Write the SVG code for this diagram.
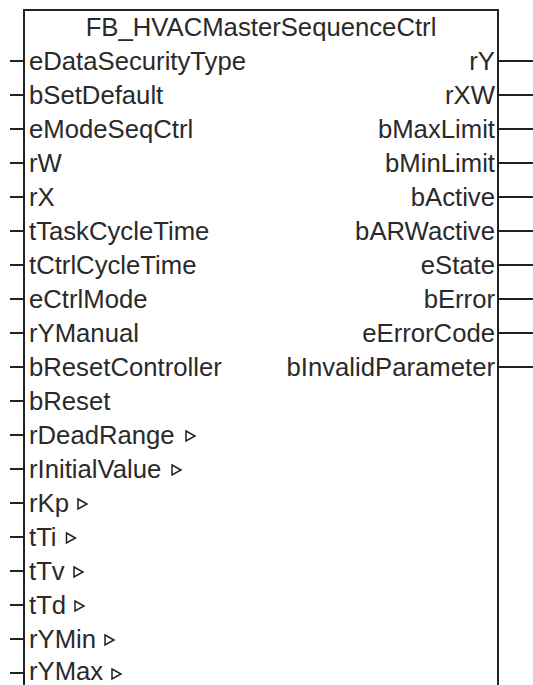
<svg xmlns="http://www.w3.org/2000/svg" width="533" height="685" viewBox="0 0 533 685">
<style>
.t{font-family:"Liberation Sans",Arial,sans-serif;font-size:25.7px;fill:#2a2a2a}
.r{text-anchor:end}
.ln{stroke:#222;stroke-width:2;fill:none}
.tri{stroke:#222;stroke-width:1.5;fill:#fff;stroke-linejoin:miter}
</style>
<rect width="533" height="685" fill="#fff"/>
<g id="fb">
<path class="ln" d="M24,686 V10 H498 V686"/>
<text class="t" x="261" y="36" text-anchor="middle">FB_HVACMasterSequenceCtrl</text>
<text class="t" x="29" y="70">eDataSecurityType</text>
<text class="t" x="29" y="104">bSetDefault</text>
<text class="t" x="29" y="138">eModeSeqCtrl</text>
<text class="t" x="29" y="172">rW</text>
<text class="t" x="29" y="206">rX</text>
<text class="t" x="29" y="240">tTaskCycleTime</text>
<text class="t" x="29" y="274">tCtrlCycleTime</text>
<text class="t" x="29" y="308">eCtrlMode</text>
<text class="t" x="29" y="342">rYManual</text>
<text class="t" x="29" y="376">bResetController</text>
<text class="t" x="29" y="410">bReset</text>
<text class="t" x="29" y="444">rDeadRange</text>
<text class="t" x="29" y="478">rInitialValue</text>
<text class="t" x="29" y="512">rKp</text>
<text class="t" x="29" y="546">tTi</text>
<text class="t" x="29" y="580">tTv</text>
<text class="t" x="29" y="614">tTd</text>
<text class="t" x="29" y="648">rYMin</text>
<text class="t" x="29" y="680">rYMax</text>
<polygon class="tri" points="186,431 195,436 186,441"/>
<polygon class="tri" points="172,465 181,470 172,475"/>
<polygon class="tri" points="78,499 87,504 78,509"/>
<polygon class="tri" points="66.5,533 75.5,538 66.5,543"/>
<polygon class="tri" points="74,567 83,572 74,577"/>
<polygon class="tri" points="75,601 84,606 75,611"/>
<polygon class="tri" points="105,635 114,640 105,645"/>
<polygon class="tri" points="112,669 121,674 112,679"/>
<text class="t r" x="495" y="70">rY</text>
<text class="t r" x="495" y="104">rXW</text>
<text class="t r" x="495" y="138">bMaxLimit</text>
<text class="t r" x="495" y="172">bMinLimit</text>
<text class="t r" x="495" y="206">bActive</text>
<text class="t r" x="495" y="240">bARWactive</text>
<text class="t r" x="495" y="274">eState</text>
<text class="t r" x="495" y="308">bError</text>
<text class="t r" x="495" y="342">eErrorCode</text>
<text class="t r" x="495" y="376">bInvalidParameter</text>
</g>
<g id="connectors" class="ln">
<path d="M10,61 H24 M10,95 H24 M10,129 H24 M10,163 H24 M10,197 H24 M10,231 H24 M10,265 H24 M10,299 H24 M10,333 H24 M10,367 H24 M10,401 H24 M10,435 H24 M10,469 H24 M10,503 H24 M10,537 H24 M10,571 H24 M10,605 H24 M10,639 H24 M10,673 H24"/>
<path d="M498,61 H533 M498,95 H533 M498,129 H533 M498,163 H533 M498,197 H533 M498,231 H533 M498,265 H533 M498,299 H533 M498,333 H533 M498,367 H533"/>
</g>
</svg>
